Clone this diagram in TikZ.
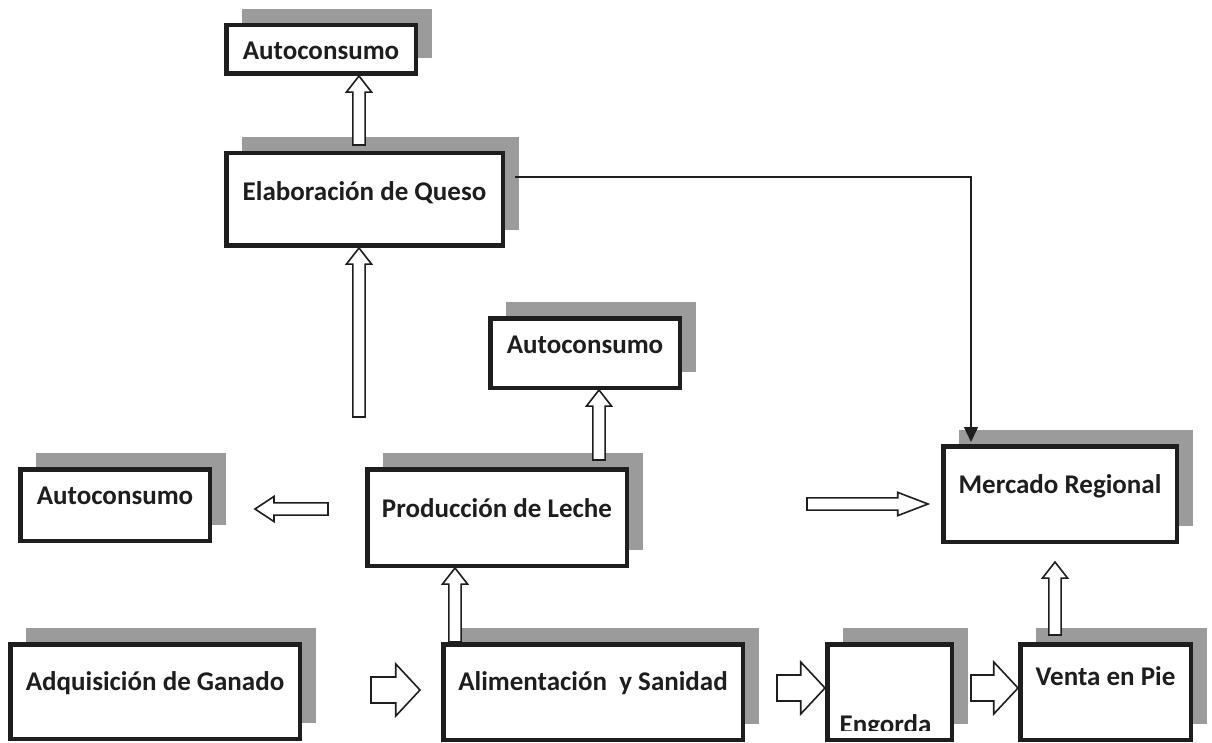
\documentclass[tikz,border=0pt]{standalone}
\usepackage{fontspec}
\setmainfont{Carlito}
\usepackage{tikz}
\usetikzlibrary{shapes.arrows,shadows,arrows.meta}

\definecolor{sombra}{RGB}{155,155,155}
\definecolor{borde}{RGB}{30,30,30}

\tikzset{
  caja/.style={draw=borde, line width=4.5pt, fill=white, inner sep=0pt,
    drop shadow={shadow xshift=16pt, shadow yshift=16pt, fill=sombra, opacity=1}},
  texto/.style={font=\fontsize{27}{30}\selectfont\bfseries, text=borde,
    text height=17pt, text depth=0pt, inner sep=0pt},
  hueca/.style={single arrow, draw=borde, line width=1.6pt, fill=white,
    inner xsep=0pt, inner ysep=5.3pt, outer sep=0pt, anchor=tip,
    single arrow head indent=0pt, single arrow head extend=6.5pt,
    single arrow tip angle=76},
  gorda/.style={hueca, inner ysep=12.2pt, single arrow head extend=13pt,
    single arrow tip angle=94},
  linea/.style={draw=borde, line width=1.4pt, -{Triangle[length=15pt,width=14pt]}}
}

\begin{document}
\begin{tikzpicture}[x=1pt,y=-1pt]
\useasboundingbox (0,0) rectangle (1212,743);

\node[caja, minimum width=189.5pt, minimum height=48.5pt,
  label={[texto, yshift=-2pt]center:Autoconsumo}] (autoA) at (321,49.5) {};
\node[caja, minimum width=276.5pt, minimum height=92.5pt,
  label={[texto, yshift=7.5pt]center:Elaboración de Queso}] (queso) at (364.5,199.5) {};
\node[caja, minimum width=189.5pt, minimum height=69.5pt,
  label={[texto, yshift=8pt]center:Autoconsumo}] (autoB) at (585,353) {};
\node[caja, minimum width=259.5pt, minimum height=96.5pt,
  label={[texto, yshift=9pt]center:Producción de Leche}] (leche) at (497,517.5) {};
\node[caja, minimum width=189.5pt, minimum height=71.5pt,
  label={[texto, yshift=9pt]center:Autoconsumo}] (autoC) at (115,505) {};
\node[caja, minimum width=289.5pt, minimum height=94.5pt,
  label={[texto, yshift=10pt]center:Adquisición de Ganado}] (adq) at (155,691.5) {};
\node[caja, minimum width=299.5pt, minimum height=95.5pt,
  label={[texto, yshift=10pt]center:Alimentación\ \ y Sanidad}] (alim) at (593,692) {};
\node[caja, minimum width=124.5pt, minimum height=95.5pt] (engorda) at (889.5,692) {};
\node[caja, minimum width=170.5pt, minimum height=95.5pt,
  label={[texto, yshift=15pt]center:Venta en Pie}] (venta) at (1105.5,692) {};
\node[caja, minimum width=233.5pt, minimum height=95.5pt,
  label={[texto, yshift=9pt]center:Mercado Regional}] (mercado) at (1060,494) {};

% el texto de Engorda queda cortado por el borde
\begin{scope}
\clip (827,644) rectangle (952,730);
\node[texto] (tEngorda) at ([xshift=-4pt,yshift=-33pt]engorda) {Engorda};
\end{scope}

\node[hueca, rotate=90, minimum height=69pt] (f1) at ([xshift=38pt]autoA.south) {};
\node[hueca, rotate=90, minimum height=169pt] (f2) at ([xshift=-5.5pt]queso.south) {};
\node[hueca, rotate=90, minimum height=70pt] (f3) at ([xshift=14pt]autoB.south) {};
\node[hueca, rotate=180, minimum height=73pt, single arrow tip angle=67]
  (f4) at ([xshift=43pt,yshift=-4pt]autoC.east) {};
\node[hueca, rotate=90, minimum height=74pt] (f5) at ([xshift=-42pt]leche.south) {};
\node[gorda, minimum height=49pt] (f6) at ([xshift=-21pt,yshift=2pt]alim.west) {};
\node[gorda, minimum height=48pt] (f7) at ([yshift=4pt]engorda.west) {};
\node[gorda, minimum height=47pt] (f8) at ([yshift=4pt]venta.west) {};
\node[hueca, rotate=90, minimum height=73pt] (f9) at ([xshift=-5pt,yshift=-18pt]mercado.south) {};
\node[hueca, minimum height=121pt, single arrow head extend=5.5pt,
  single arrow tip angle=42] (f10) at ([xshift=-13pt,yshift=-10pt]mercado.west) {};

\draw[linea] ([xshift=10pt,yshift=22.5pt]queso.east) -| ([xshift=-89pt,yshift=2pt]mercado.north);

\end{tikzpicture}
\end{document}
